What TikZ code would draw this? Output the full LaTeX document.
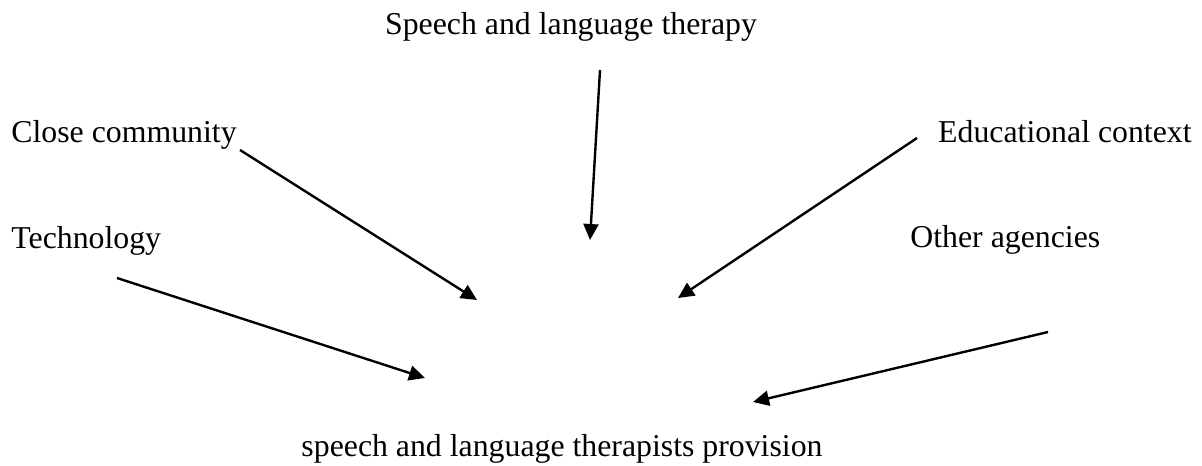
\documentclass[tikz,border=0pt]{standalone}
\usepackage{fontspec}
\setmainfont{Liberation Serif}
\usetikzlibrary{arrows.meta, positioning}

\begin{document}
\begin{tikzpicture}[
  x=0.5pt, y=-0.5pt,
  factor/.style={inner sep=0pt, font=\fontsize{15.9}{19}\selectfont},
  arrow/.style={-{Triangle[length=8pt, width=7.5pt]}, line width=1.2pt, color=black}
]
  \useasboundingbox (0,0) rectangle (1202,465);

  % Contributing factors
  \node[factor, anchor=base] (therapy) at (571,35) {Speech and language therapy};
  \node[factor, anchor=base west] (community) at (11,142) {Close community};
  \node[factor, anchor=base east] (education) at (1192,142) {Educational context};
  \node[factor, anchor=base west] (technology) at (11,248) {Technology};
  \node[factor, anchor=base west] (agencies) at (910,247) {Other agencies};

  % Outcome
  \node[factor, anchor=base] (provision) at (562,456) {speech and language therapists provision};

  % Arrow ends
  \coordinate (therapyA) at (600,70);
  \coordinate (therapyB) at (590,240);
  \coordinate (communityA) at (240,150);
  \coordinate (communityB) at (477,300);
  \coordinate (educationA) at (917,138);
  \coordinate (educationB) at (678,298);
  \coordinate (technologyA) at (117,278);
  \coordinate (technologyB) at (425,378);
  \coordinate (agenciesA) at (1048,332);
  \coordinate (agenciesB) at (753,402);

  % Arrows
  \draw[arrow] (therapyA) -- (therapyB);
  \draw[arrow] (communityA) -- (communityB);
  \draw[arrow] (educationA) -- (educationB);
  \draw[arrow] (technologyA) -- (technologyB);
  \draw[arrow] (agenciesA) -- (agenciesB);
\end{tikzpicture}
\end{document}
